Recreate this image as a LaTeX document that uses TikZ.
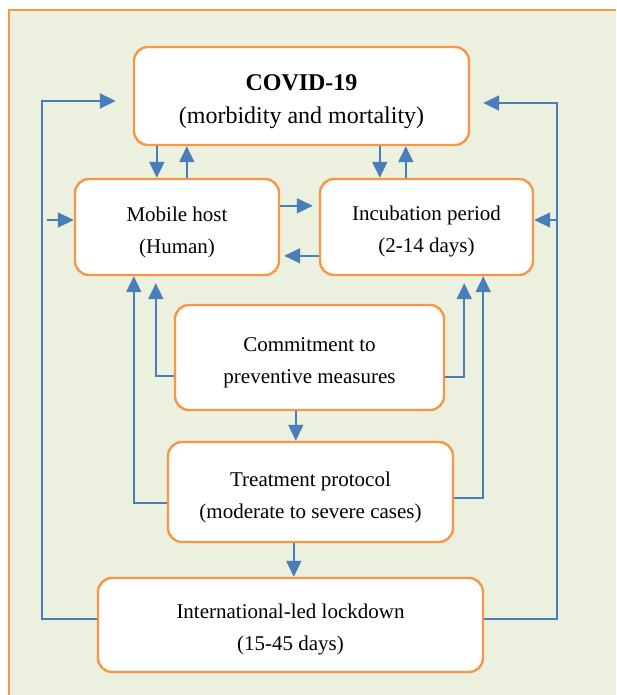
\documentclass[tikz,border=0pt]{standalone}
\usepackage{fontspec}
\setmainfont{Liberation Serif}
\usepackage{tikz}
\usetikzlibrary{arrows.meta}
\definecolor{flowblue}{HTML}{4A7EBB}
\definecolor{boxorange}{HTML}{F79646}
\definecolor{panelgreen}{HTML}{EBF1DE}
\tikzset{>={Triangle[length=16pt,width=15pt]}}
\tikzstyle{arrow}  = [->,
                      draw=flowblue,
                      line width=1.8pt]
\tikzstyle{box}    = [draw=boxorange,
                      line width=2.4pt,
                      fill=white,
                      rounded corners=14pt,
                      inner sep=0pt,
                      align=center,
                      text height=56.5pt,
                      font=\fontsize{21}{32}\selectfont]

\begin{document}
\begin{tikzpicture}[x=1pt, y=-1pt]

  % Panel
  \useasboundingbox (0,0) rectangle (616,695);
  \fill[panelgreen] (9,10) rectangle (616,695);
  \draw[boxorange, line width=2pt] (616,10) -- (9,10) -- (9,695);

  % Nodes
  \node[box, minimum width=335pt, minimum height=98pt, text height=59.5pt,
        font=\fontsize{24}{33}\selectfont] (covid) at (301.5,96)
        {\textbf{COVID-19}\\(morbidity and mortality)};
  \node[box, minimum width=204pt, minimum height=96pt] (mobile) at (177,227)
        {Mobile host\\(Human)};
  \node[box, minimum width=213pt, minimum height=96pt] (incub) at (426.5,227)
        {Incubation period\\(2-14 days)};
  \node[box, minimum width=269pt, minimum height=105pt] (commit) at (309.5,357.5)
        {Commitment to\\preventive measures};
  \node[box, minimum width=285pt, minimum height=100pt] (treat) at (310.5,492)
        {Treatment protocol\\(moderate to severe cases)};
  \node[box, minimum width=385pt, minimum height=94pt] (lock) at (290.5,625)
        {International-led lockdown\\(15-45 days)};

  \coordinate (lft)  at (42,101);
  \coordinate (lftb) at (47,220);
  \coordinate (rgt)  at (557,103);
  \coordinate (rgtb) at (557,220);

  % Edges
  \draw[arrow] ([xshift=24pt]covid.south west) -- ([xshift=83pt]mobile.north west);
  \draw[arrow] ([xshift=113pt]mobile.north west) -- ([xshift=54pt]covid.south west);
  \draw[arrow] ([xshift=247pt]covid.south west) -- ([xshift=61pt]incub.north west);
  \draw[arrow] ([xshift=87pt]incub.north west) -- ([xshift=273pt]covid.south west);
  \draw[arrow, shorten >=6pt] ([yshift=-28pt]mobile.north east) -- ([yshift=-28pt]incub.north west);
  \draw[arrow, shorten >=4pt] ([yshift=-78pt]incub.north west) -- ([yshift=-78pt]mobile.north east);

  \draw[arrow, shorten >=7pt] ([yshift=-18.5pt]commit.west) -| ([xshift=82pt]mobile.south west);
  \draw[arrow, shorten >=7pt] ([yshift=-19.5pt]commit.east) -| ([xshift=-70pt]incub.south east);
  \draw[arrow] ([xshift=122pt]commit.south west) -- ([xshift=129pt]treat.north west);
  \draw[arrow] ([yshift=-11pt]treat.west) -| ([xshift=60pt]mobile.south west);
  \draw[arrow] ([yshift=-6pt]treat.east) -| ([xshift=-51pt]incub.south east);
  \draw[arrow] ([xshift=127pt]treat.south west) -- ([xshift=197pt]lock.north west);

  % Feedback loops
  \draw[arrow, shorten >=17pt] ([yshift=6pt]lock.west) -| (lft) -- ([yshift=-5pt]covid.west);
  \draw[arrow] (lftb) -- (lftb -| mobile.west);
  \draw[arrow, shorten >=13pt] ([yshift=6pt]lock.east) -| (rgt) -- ([yshift=-7pt]covid.east);
  \draw[arrow] (rgtb) -- (rgtb -| incub.east);

\end{tikzpicture}
\end{document}
